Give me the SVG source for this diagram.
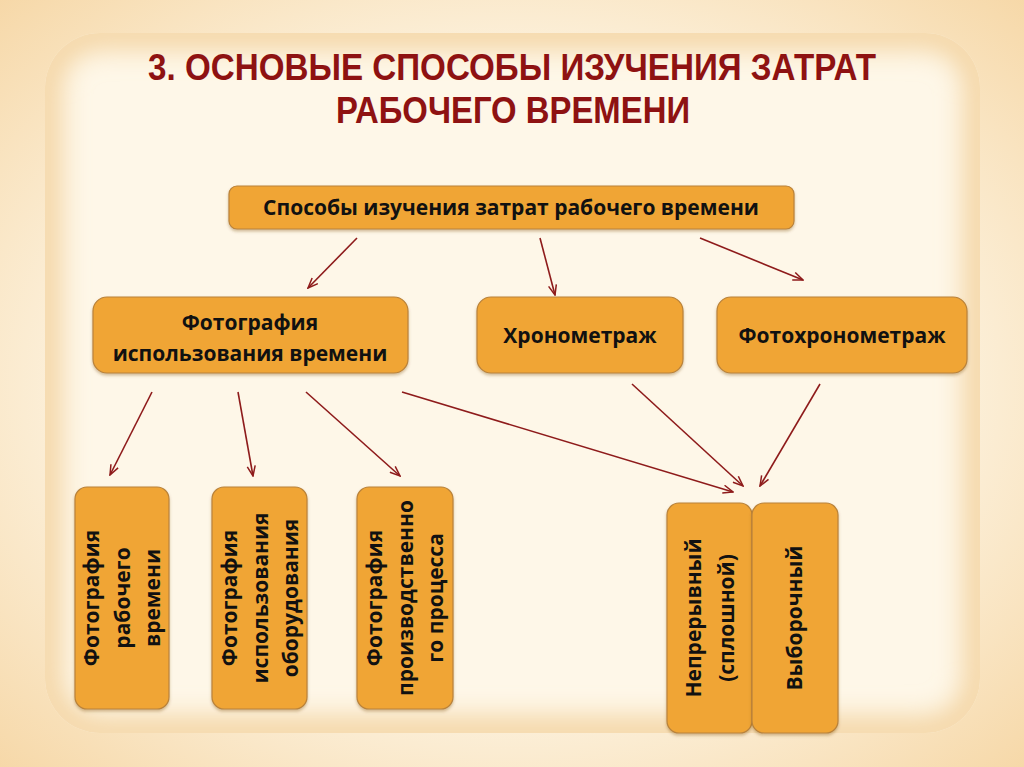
<svg xmlns="http://www.w3.org/2000/svg" width="1024" height="767" viewBox="0 0 1024 767">
  <defs>
    <radialGradient id="bg" cx="50%" cy="50%" r="72%">
      <stop offset="0" stop-color="#FEF8EA"/>
      <stop offset="0.6" stop-color="#FCF0DA"/>
      <stop offset="1" stop-color="#F6D7A6"/>
    </radialGradient>
    <clipPath id="panelClip">
      <rect x="45" y="33" width="935" height="700" rx="55" ry="55"/>
    </clipPath>
    <filter id="blur" x="-10%" y="-10%" width="120%" height="120%">
      <feGaussianBlur stdDeviation="14"/>
    </filter>
    <filter id="shadow" x="-10%" y="-10%" width="120%" height="130%">
      <feDropShadow dx="0" dy="2" stdDeviation="1.5" flood-color="#7a4a10" flood-opacity="0.35"/>
    </filter>
    <marker id="arr" viewBox="0 0 12 10" refX="11" refY="5" markerWidth="12" markerHeight="10" markerUnits="userSpaceOnUse" orient="auto">
      <path d="M1,1 L11,5 L1,9" fill="none" stroke="#8E1B1B" stroke-width="1.5"/>
    </marker>
    <style>
      .box { fill: #F0A535; stroke: #B9823A; stroke-width: 1.2; filter: url(#shadow); }
      .t { font-family: "Open Sans", "Liberation Sans", sans-serif; font-weight: 700; font-size: 21px; fill: #111; text-anchor: middle; }
      .title { font-family: "Liberation Sans", sans-serif; font-weight: 700; font-size: 37px; fill: #8E1212; text-anchor: middle; }
      .conn line { stroke: #8E1B1B; stroke-width: 1.6; marker-end: url(#arr); }
    </style>
  </defs>

  <!-- background -->
  <rect x="0" y="0" width="1024" height="767" fill="url(#bg)"/>
  <g id="panel">
    <rect x="45" y="33" width="935" height="700" rx="55" ry="55" fill="#FEF7E8"/>
    <g clip-path="url(#panelClip)">
      <rect x="45" y="33" width="935" height="700" rx="55" ry="55" fill="none" stroke="#F3D29E" stroke-width="30" filter="url(#blur)"/>
    </g>
  </g>

  <!-- title -->
  <g id="title">
    <text class="title" x="512" y="80" textLength="728" lengthAdjust="spacingAndGlyphs">3. ОСНОВЫЕ СПОСОБЫ ИЗУЧЕНИЯ ЗАТРАТ</text>
    <text class="title" x="513" y="123" textLength="354" lengthAdjust="spacingAndGlyphs">РАБОЧЕГО ВРЕМЕНИ</text>
  </g>

  <!-- connectors -->
  <g id="connectors" class="conn">
    <line x1="357" y1="238" x2="308" y2="288"/>
    <line x1="540" y1="238" x2="555" y2="295"/>
    <line x1="700" y1="238" x2="803" y2="280"/>
    <line x1="152" y1="392" x2="110" y2="475"/>
    <line x1="238" y1="392" x2="253" y2="476"/>
    <line x1="306" y1="392" x2="400" y2="476"/>
    <line x1="402" y1="392" x2="733" y2="492"/>
    <line x1="632" y1="384" x2="743" y2="486"/>
    <line x1="820" y1="384" x2="760" y2="486"/>
  </g>

  <!-- nodes -->
  <g id="root">
    <rect class="box" x="229" y="186" width="565" height="43" rx="8"/>
    <text class="t" x="511" y="215">Способы изучения затрат рабочего времени</text>
  </g>
  <g id="photo-time">
    <rect class="box" x="93" y="297" width="315" height="76" rx="14"/>
    <text class="t" x="250" y="330">Фотография</text>
    <text class="t" x="250" y="361">использования времени</text>
  </g>
  <g id="chrono">
    <rect class="box" x="477" y="297" width="206" height="76" rx="14"/>
    <text class="t" x="580" y="343">Хронометраж</text>
  </g>
  <g id="photochrono">
    <rect class="box" x="717" y="297" width="250" height="76" rx="14"/>
    <text class="t" x="842" y="343">Фотохронометраж</text>
  </g>

  <g id="photo-work">
    <rect class="box" x="75" y="487" width="94" height="222" rx="12"/>
    <g transform="translate(122,598) rotate(-90)">
      <text class="t" x="0" y="-23">Фотография</text>
      <text class="t" x="0" y="8">рабочего</text>
      <text class="t" x="0" y="38">времени</text>
    </g>
  </g>
  <g id="photo-equipment">
    <rect class="box" x="212" y="487" width="95" height="222" rx="12"/>
    <g transform="translate(259.5,598) rotate(-90)">
      <text class="t" x="0" y="-23">Фотография</text>
      <text class="t" x="0" y="8">использования</text>
      <text class="t" x="0" y="38">оборудования</text>
    </g>
  </g>
  <g id="photo-process">
    <rect class="box" x="357" y="487" width="96" height="222" rx="12"/>
    <g transform="translate(405,598) rotate(-90)">
      <text class="t" x="0" y="-23">Фотография</text>
      <text class="t" x="0" y="8">производственно</text>
      <text class="t" x="0" y="38">го процесса</text>
    </g>
  </g>

  <g id="continuous">
    <rect class="box" x="667" y="503" width="85" height="230" rx="12"/>
    <g transform="translate(709.5,618) rotate(-90)">
      <text class="t" x="0" y="-9">Непрерывный</text>
      <text class="t" x="0" y="24">(сплошной)</text>
    </g>
  </g>
  <g id="selective">
    <rect class="box" x="752" y="503" width="86" height="230" rx="12"/>
    <g transform="translate(795,618) rotate(-90)">
      <text class="t" x="0" y="7">Выборочный</text>
    </g>
  </g>
</svg>
